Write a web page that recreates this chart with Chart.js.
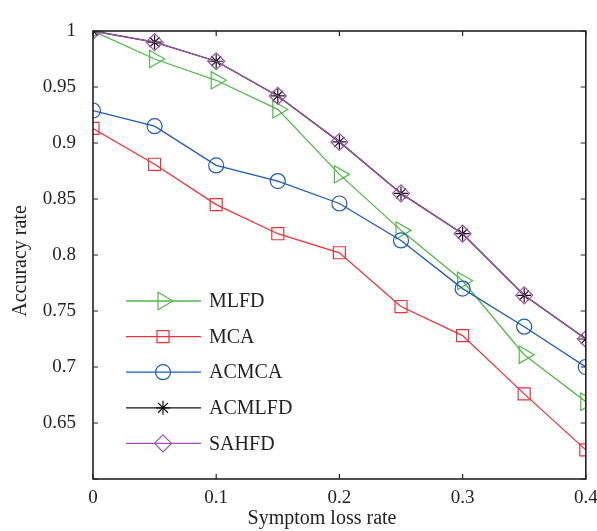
<!DOCTYPE html>
<html>
<head>
<meta charset="utf-8">
<script src="https://cdn.jsdelivr.net/npm/chart.js@4/dist/chart.umd.min.js"></script>
<style>
  html, body { margin: 0; padding: 0; background: #fff; }
  #wrap { width: 597px; height: 531px; }
</style>
</head>
<body>
<div id="wrap"><canvas id="accChart" width="597" height="531"></canvas></div>
<script>
// data
const lossRates = [0, 0.05, 0.1, 0.15, 0.2, 0.25, 0.3, 0.35, 0.4];
const seriesNames = ['MLFD', 'MCA', 'ACMCA', 'ACMLFD', 'SAHFD'];
const mlfd   = [1.000, 0.975, 0.956, 0.930, 0.872, 0.822, 0.777, 0.711, 0.669];
const mca    = [0.913, 0.881, 0.845, 0.819, 0.802, 0.754, 0.728, 0.676, 0.626];
const acmca  = [0.929, 0.915, 0.880, 0.866, 0.846, 0.813, 0.770, 0.736, 0.700];
const acmlfd = [1.000, 0.990, 0.973, 0.942, 0.901, 0.855, 0.819, 0.764, 0.725];
const sahfd  = [1.000, 0.990, 0.973, 0.942, 0.901, 0.855, 0.819, 0.764, 0.725];
const xTickLabels = ['0', '0.1', '0.2', '0.3', '0.4'];
const yTickLabels = ['', '0.65', '0.7', '0.75', '0.8', '0.85', '0.9', '0.95', '1'];

const FONT = '"Liberation Serif", "DejaVu Serif", serif';
const toPoints = vals => vals.map((v, i) => ({ x: lossRates[i], y: v }));

function makeSet(label, vals, color, style, radius, rotation, order) {
    return {
        label: label,
        data: toPoints(vals),
        borderColor: color,
        backgroundColor: 'rgba(0,0,0,0)',
        borderWidth: 1.3,
        pointStyle: style,
        pointRadius: radius,
        pointRotation: rotation,
        pointBorderColor: color,
        pointBackgroundColor: 'rgba(0,0,0,0)',
        pointBorderWidth: 1.2,
        tension: 0,
        fill: false,
        order: order
    };
}

const datasets = [
    makeSet(seriesNames[0], mlfd,   '#52b848', 'triangle', 10, 90, 4),
    makeSet(seriesNames[1], mca,    '#ee3338', 'rect', 8.5, 0, 3),
    makeSet(seriesNames[2], acmca,  '#1f5bb5', 'circle', 7.5, 0, 2),
    makeSet(seriesNames[3], acmlfd, '#111111', 'star', 7, 0, 1),
    makeSet(seriesNames[4], sahfd,  '#9a52a6', 'rectRot', 8.5, 0, 0)
];

// frame, inward ticks, axis titles and legend
const framePlugin = {
    id: 'frame',
    afterDraw(chart) {
        const ctx = chart.ctx;
        const a = chart.chartArea;
        const xs = chart.scales.x, ys = chart.scales.y;
        ctx.save();
        ctx.strokeStyle = '#222';
        ctx.lineWidth = 1.6;
        ctx.strokeRect(a.left, a.top, a.right - a.left, a.bottom - a.top);
        ctx.lineWidth = 1.2;
        ctx.beginPath();
        xs.ticks.forEach(t => {
            const px = xs.getPixelForValue(t.value);
            ctx.moveTo(px, a.bottom); ctx.lineTo(px, a.bottom - 5);
            ctx.moveTo(px, a.top); ctx.lineTo(px, a.top + 5);
        });
        ys.ticks.forEach(t => {
            const py = ys.getPixelForValue(t.value);
            ctx.moveTo(a.left, py); ctx.lineTo(a.left + 5, py);
            ctx.moveTo(a.right, py); ctx.lineTo(a.right - 5, py);
        });
        ctx.stroke();

        // axis titles
        ctx.fillStyle = '#222';
        ctx.font = '20px ' + FONT;
        ctx.textAlign = 'center';
        ctx.textBaseline = 'alphabetic';
        ctx.fillText('Symptom loss rate', 322, 524);
        ctx.save();
        ctx.translate(26, 261);
        ctx.rotate(-Math.PI / 2);
        ctx.fillText('Accuracy rate', 0, 0);
        ctx.restore();

        // legend: line with marker, like the original
        const rowY0 = 301, rowGap = 35.6;
        chart.data.datasets.forEach((ds, i) => {
            const y = rowY0 + i * rowGap;
            ctx.strokeStyle = ds.borderColor;
            ctx.fillStyle = 'rgba(0,0,0,0)';
            ctx.lineWidth = 1.3;
            ctx.beginPath();
            ctx.moveTo(126, y); ctx.lineTo(201, y);
            ctx.stroke();
            ctx.lineWidth = ds.pointBorderWidth;
            Chart.helpers.drawPoint(ctx, {
                pointStyle: ds.pointStyle,
                radius: ds.pointRadius,
                rotation: ds.pointRotation,
                borderWidth: ds.pointBorderWidth
            }, 163, y);
            ctx.fillStyle = '#222';
            ctx.font = '20px ' + FONT;
            ctx.textAlign = 'left';
            ctx.textBaseline = 'middle';
            ctx.fillText(ds.label, 209, y + 1);
        });
        ctx.restore();
    }
};

const ctx = document.getElementById('accChart').getContext('2d');
new Chart(ctx, {
    type: 'line',
    data: { datasets: datasets },
    options: {
        responsive: false,
        animation: false,
        layout: { padding: { top: 31, right: 11, left: 0, bottom: 0 } },
        plugins: {
            legend: { display: false },
            tooltip: { enabled: false }
        },
        scales: {
            x: {
                type: 'linear',
                min: 0,
                max: 0.4,
                grid: { display: false },
                border: { display: false },
                ticks: {
                    stepSize: 0.1,
                    padding: 0,
                    color: '#222',
                    font: { family: FONT, size: 19 },
                    maxRotation: 0,
                    callback: (v, i) => xTickLabels[i]
                },
                afterFit: s => { s.height = 52; s.paddingLeft = 0; s.paddingRight = 0; }
            },
            y: {
                min: 0.6,
                max: 1,
                grid: { display: false },
                border: { display: false },
                ticks: {
                    stepSize: 0.05,
                    padding: 9,
                    color: '#222',
                    font: { family: FONT, size: 19 },
                    callback: (v, i) => yTickLabels[i]
                },
                afterFit: s => { s.width = 93; s.paddingTop = 0; s.paddingBottom = 0; }
            }
        }
    },
    plugins: [framePlugin]
});
</script>
</body>
</html>
